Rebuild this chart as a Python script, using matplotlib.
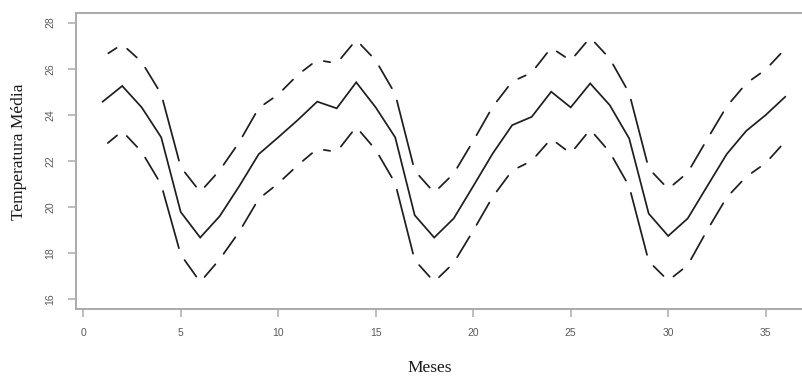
import numpy as np
import matplotlib
matplotlib.use("Agg")
import matplotlib.pyplot as plt

# monthly mean temperature with upper / lower bands
meses = np.arange(1, 37)
media = [24.57, 25.25, 24.32, 23.02, 19.78, 18.67, 19.6, 20.9, 22.29, 23.02, 23.77, 24.57,
         24.28, 25.41, 24.32, 23.02, 19.64, 18.67, 19.5, 20.9, 22.32, 23.55, 23.91, 25.0,
         24.32, 25.36, 24.42, 22.97, 19.71, 18.74, 19.5, 20.9, 22.29, 23.3, 23.99, 24.78]
superior = [26.51, 27.06, 26.29, 24.9, 21.73, 20.65, 21.59, 22.81, 24.29, 24.88, 25.73, 26.38,
            26.23, 27.25, 26.36, 24.9, 21.57, 20.62, 21.45, 22.86, 24.35, 25.44, 25.83, 26.91,
            26.35, 27.35, 26.44, 24.94, 21.67, 20.78, 21.49, 22.94, 24.36, 25.36, 25.96, 26.86]
inferior = [22.59, 23.29, 22.39, 20.97, 17.93, 16.74, 17.73, 18.92, 20.35, 21.02, 21.81, 22.52,
            22.39, 23.47, 22.48, 21.03, 17.69, 16.75, 17.57, 18.97, 20.44, 21.58, 22.0, 22.96,
            22.32, 23.36, 22.38, 20.89, 17.64, 16.8, 17.47, 18.99, 20.41, 21.31, 21.9, 22.84]
xticks = [0, 5, 10, 15, 20, 25, 30, 35]
yticks = [16, 18, 20, 22, 24, 26, 28]

W, H = 803, 376
fig = plt.figure(figsize=(W / 100, H / 100), dpi=100)
left, right, top, bottom = 76, 812.5, 12.7, 309
ax = fig.add_axes([left / W, 1 - bottom / H, (right - left) / W, (bottom - top) / H])

line_col = "#1e1e1e"
ax.plot(meses, media, color=line_col, lw=1.25, solid_joinstyle="miter")

# dashed bands: every segment drawn with a gap at both vertices
for band in (superior, inferior):
    for i in range(len(meses) - 1):
        ax.annotate("", xy=(meses[i + 1], band[i + 1]), xytext=(meses[i], band[i]),
                    arrowprops=dict(arrowstyle="-", color=line_col, lw=1.25,
                                    shrinkA=4.8, shrinkB=4.8))

ax.set_xlim(-0.37, 37.4)
ax.set_ylim(15.57, 28.43)
ax.set_xticks(xticks)
ax.set_yticks(yticks)

spine_col = "#ababab"
for s in ax.spines.values():
    s.set_color(spine_col)
    s.set_linewidth(1.4)
ax.spines["right"].set_visible(False)

ax.tick_params(axis="both", direction="out", length=5.5, width=1.1, color=spine_col,
               labelsize=7.5, labelcolor="#5a5a5a")
ax.tick_params(axis="x", pad=8.5)
ax.tick_params(axis="y", pad=9.5, labelrotation=90)
for lab in ax.get_yticklabels():
    lab.set_va("center")
for lab in ax.get_xticklabels() + ax.get_yticklabels():
    lab.set_family("Liberation Sans")

fig.text(19 / W, 1 - 151.5 / H, "Temperatura Média", rotation=90, ha="center", va="center",
         family="Liberation Serif", fontsize=12.5, color="#1a1a1a")
fig.text(430 / W, 1 - 368 / H, "Meses", ha="center", va="center",
         family="Liberation Serif", fontsize=12.5, color="#1a1a1a")

fig.savefig("out.png", dpi=100)
